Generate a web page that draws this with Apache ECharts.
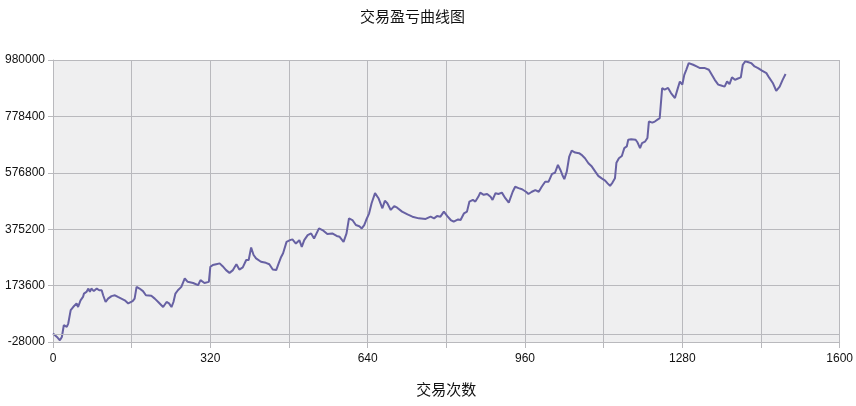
<!DOCTYPE html>
<html>
<head>
<meta charset="utf-8">
<script src="https://cdn.jsdelivr.net/npm/echarts@6/dist/echarts.min.js"></script>
<style>
html,body{margin:0;padding:0;background:#fff;}
#main{width:856px;height:406px;}
</style>
</head>
<body>
<div id="main"></div>
<script>
var trades = [0,8,14,18,22,28,31,36,41,45,48,51,56,61,63,68,72,75,78,83,89,94,99,102,107,112,119,126,132,139,146,153,156,162,166,170,176,183,189,193,200,207,
214,224,231,236,241,245,249,254,261,268,274,285,295,300,308,317,320,325,332,339,345,352,359,366,373,379,386,393,398,403,408,
413,423,433,440,447,454,459,464,468,475,482,487,494,501,506,511,518,525,531,541,550,558,568,577,583,591,597,602,
609,616,623,628,633,637,643,648,655,662,670,675,680,687,694,700,710,721,731,744,758,768,775,781,788,795,802,809,815,
819,824,829,836,842,847,854,859,865,869,876,883,890,894,900,906,913,920,927,935,940,947,954,962,967,974,981,988,994,1001,1008,
1015,1021,1027,1032,1036,1040,1045,1050,1055,1062,1070,1075,1082,1089,1096,1103,1109,1116,1123,1128,1133,1138,1143,1146,1151,1157,1162,1167,1170,1176,1180,1185,1189,1194,1198,1204,1209,1212,1219,
1224,1234,1239,1244,1251,1257,1261,1265,1270,1275,1280,1284,1288,1293,1297,1302,1309,1316,1326,1334,1340,1346,1353,1359,1366,1371,1376,1381,1387,1392,1399,1403,1408,1413,1420,1427,1434,1442,1451,1457,1464,1471,1478,1484,1490];

var profit = [2000,-10000,-22000,-10000,32000,26000,38000,86000,97000,92000,110000,97000,121000,133000,145000,151000,163000,151000,163000,154000,163000,157000,157000,139000,115000,127000,136000,139000,133000,127000,121000,110000,106000,118000,127000,169000,163000,154000,139000,133000,137000,127000,
115000,97000,115000,110000,97000,115000,145000,157000,169000,199000,187000,183000,175000,193000,183000,187000,241000,247000,250000,253000,243000,229000,219000,229000,250000,231000,239000,265000,265000,310000,283000,
271000,259000,255000,250000,231000,229000,253000,276000,289000,330000,336000,339000,324000,336000,312000,336000,354000,360000,342000,378000,370000,358000,360000,351000,348000,330000,360000,414000,
408000,390000,386000,378000,390000,408000,432000,468000,504000,486000,450000,477000,468000,444000,458000,452000,438000,428000,420000,414000,412000,420000,414000,422000,420000,438000,422000,408000,402000,
396000,410000,408000,432000,438000,474000,480000,474000,491000,506000,498000,501000,491000,480000,504000,501000,506000,486000,470000,509000,527000,522000,518000,509000,501000,509000,515000,509000,527000,545000,545000,
573000,577000,605000,587000,569000,554000,581000,635000,656000,649000,647000,641000,629000,611000,599000,581000,566000,557000,549000,539000,530000,542000,557000,613000,629000,637000,665000,671000,695000,697000,701000,695000,685000,665000,683000,688000,701000,760000,756000,
760000,772000,880000,874000,880000,862000,856000,844000,874000,903000,892000,927000,945000,969000,975000,963000,957000,951000,951000,945000,927000,909000,892000,889000,885000,903000,894000,918000,909000,913000,918000,963000,975000,973000,969000,957000,951000,942000,933000,916000,898000,870000,885000,909000,930000];

var yMin = -28000, yMax = 980000, yStep = 201600;
var xMin = 0, xMax = 1600, xStep = 160, xLabelStep = 320;
var titleText = '交易盈亏曲线图';
var xName = '交易次数';

var points = trades.map(function (t, i) { return [t, profit[i]]; });

var chart = echarts.init(document.getElementById('main'));
var gridColor = '#b9b9bd';
var labelFont = 'Liberation Sans, Arial, sans-serif';
chart.setOption({
  animation: false,
  backgroundColor: '#ffffff',
  title: {
    text: titleText,
    left: 360,
    top: 9,
    padding: 0,
    textStyle: { fontFamily: 'Noto Sans CJK SC', fontSize: 15, fontWeight: 'normal', color: '#111' }
  },
  grid: {
    left: 53, right: 13, top: 60, bottom: 64,
    show: true, backgroundColor: '#efeff0', borderWidth: 0
  },
  xAxis: {
    type: 'value',
    min: xMin, max: xMax, interval: xStep,
    name: xName,
    nameLocation: 'middle',
    nameGap: 40,
    nameTextStyle: { fontFamily: 'Noto Sans CJK SC', fontSize: 15, color: '#111' },
    axisLine: { show: true, onZero: false, lineStyle: { color: gridColor, width: 1 } },
    axisTick: { show: true, length: 6, lineStyle: { color: gridColor } },
    axisLabel: {
      margin: 11, fontFamily: labelFont, fontSize: 12, color: '#111',
      formatter: function (v) { return v % xLabelStep === 0 ? String(v) : ''; }
    },
    splitLine: { show: true, lineStyle: { color: gridColor, width: 1 } }
  },
  yAxis: {
    type: 'value',
    min: yMin, max: yMax, interval: yStep,
    axisLine: { show: true, lineStyle: { color: gridColor, width: 1 } },
    axisTick: { show: true, length: 5, lineStyle: { color: gridColor } },
    axisLabel: {
      margin: 8, fontFamily: labelFont, fontSize: 12, color: '#111',
      formatter: function (v) { return String(Math.round(v)); }
    },
    splitLine: { show: true, lineStyle: { color: gridColor, width: 1 } }
  },
  series: [{
    type: 'line',
    data: points,
    showSymbol: false,
    symbol: 'none',
    lineStyle: { color: '#6761a3', width: 2 },
    markLine: {
      silent: true,
      symbol: 'none',
      label: { show: false },
      lineStyle: { color: gridColor, type: 'solid', width: 1 },
      data: [{ yAxis: 0 }]
    }
  }]
});
</script>
</body>
</html>
